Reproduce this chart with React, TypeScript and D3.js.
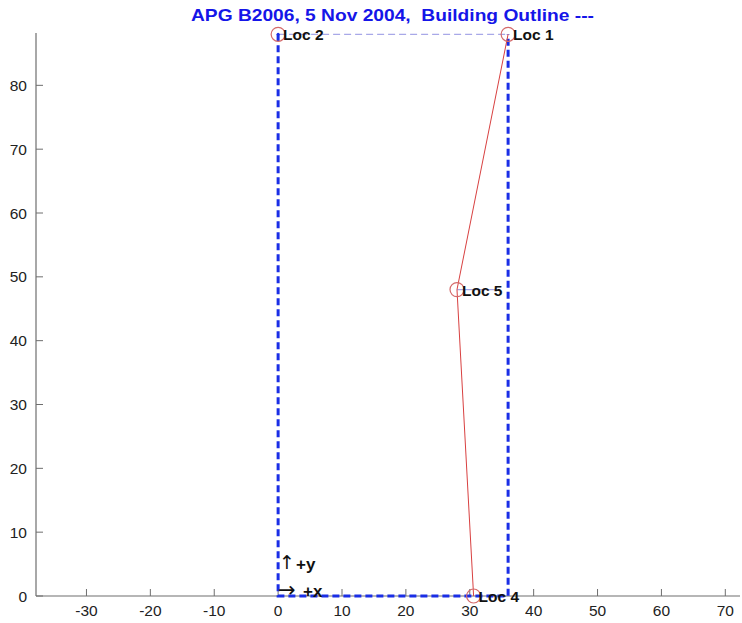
import React from "react";
import * as d3 from "d3";

const title = "APG B2006, 5 Nov 2004,  Building Outline ---";
const xTicks = [-30, -20, -10, 0, 10, 20, 30, 40, 50, 60, 70];
const yTicks = [0, 10, 20, 30, 40, 50, 60, 70, 80];
const outlineX = [0, 0, 36, 36];
const outlineY = [88, 0, 0, 88];
const topEdgeX = [0, 36];
const topEdgeY = [88, 88];
const locNames = ["Loc 1", "Loc 5", "Loc 4", "Loc 2"];
const locX = [36, 28, 30.6, 0];
const locY = [88, 48, 0, 88];
const pathIdx = [0, 1, 2];

const W = 742;
const H = 623;

export default function App() {
  const x = d3.scaleLinear().domain([-37.9, 72.3]).range([36, 740]);
  const y = d3.scaleLinear().domain([0, 88.2]).range([596, 33]);
  const line = d3.line<[number, number]>().x((d) => x(d[0])).y((d) => y(d[1]));
  const outline = outlineX.map((v, i) => [v, outlineY[i]] as [number, number]);
  const top = topEdgeX.map((v, i) => [v, topEdgeY[i]] as [number, number]);
  const red = pathIdx.map((i) => [locX[i], locY[i]] as [number, number]);
  const axisColor = "#6e6e6e";
  const font = "Arial, 'Liberation Sans', sans-serif";
  return (
    <svg width={W} height={H} style={{ position: "absolute", left: 0, top: 0, background: "#fff" }}>
      <rect x={0} y={0} width={W} height={H} fill="#fff" />
      <text
        x={191}
        y={21}
        fontFamily={font}
        fontWeight="bold"
        fontSize={17}
        fill="#1515e8"
        textLength={403}
        lengthAdjust="spacingAndGlyphs"
        style={{ whiteSpace: "pre" }}
      >
        {title}
      </text>
      {/* axes */}
      <line x1={36} x2={36} y1={33} y2={596} stroke={axisColor} strokeWidth={1.2} />
      <line x1={36} x2={740} y1={596} y2={596} stroke={axisColor} strokeWidth={1.2} />
      {xTicks.map((t) => (
        <g key={"x" + t}>
          <line x1={x(t)} x2={x(t)} y1={596} y2={589} stroke={axisColor} />
          <text x={x(t)} y={616} textAnchor="middle" fontFamily={font} fontSize={15.5} fill="#222">
            {t}
          </text>
        </g>
      ))}
      {yTicks.map((t) => (
        <g key={"y" + t}>
          <line x1={36} x2={43} y1={y(t)} y2={y(t)} stroke={axisColor} />
          <text x={27} y={y(t) + 5.5} textAnchor="end" fontFamily={font} fontSize={15.5} fill="#222">
            {t}
          </text>
        </g>
      ))}
      {/* building outline */}
      <path d={line(top) || ""} fill="none" stroke="#a8a8e8" strokeWidth={1.3} strokeDasharray="7,4" />
      <path d={line(outline) || ""} fill="none" stroke="#1a2ee6" strokeWidth={3} strokeDasharray="7,4" />
      {/* Loc 5 horizontal tick */}
      <line x1={x(locX[1])} x2={x(locX[1]) + 40} y1={y(locY[1])} y2={y(locY[1])} stroke="#a8a8e8" strokeWidth={1.2} />
      {/* red path */}
      <path d={line(red) || ""} fill="none" stroke="#d84040" strokeWidth={1} />
      {locNames.map((n, i) => (
        <g key={n}>
          <circle cx={x(locX[i])} cy={y(locY[i])} r={7} fill="none" stroke="#d46a6a" strokeWidth={1.2} />
          <text x={x(locX[i]) + 5} y={y(locY[i]) + 6} fontFamily={font} fontWeight="bold" fontSize={15.5} fill="#111">
            {n}
          </text>
        </g>
      ))}
      <circle cx={x(0)} cy={y(88)} r={1.5} fill="#1a2ee6" />
      {/* direction annotations */}
      <text x={x(0) + 1} y={y(0) - 27} fontFamily="'DejaVu Sans', sans-serif" fontSize={19} fill="#111">
        ↑
      </text>
      <text x={x(0) + 18} y={y(0) - 26} fontFamily={font} fontWeight="bold" fontSize={17} fill="#111">
        +y
      </text>
      <text x={x(0)} y={y(0) + 0.5} fontFamily="'DejaVu Sans', sans-serif" fontSize={21} fill="#111">
        →
      </text>
      <text x={x(0) + 25} y={y(0) + 1} fontFamily={font} fontWeight="bold" fontSize={17} fill="#111">
        +x
      </text>
    </svg>
  );
}
